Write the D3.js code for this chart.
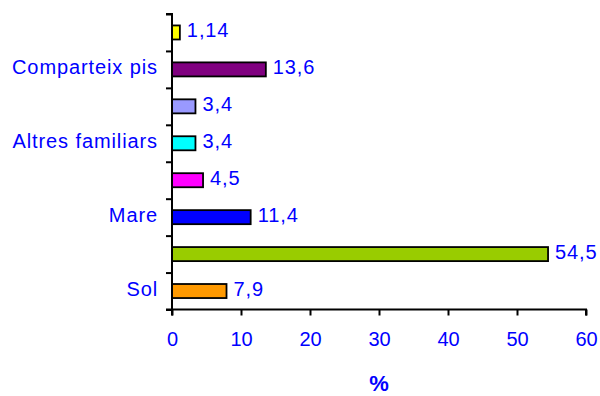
<!DOCTYPE html>
<html>
<head>
<meta charset="utf-8">
<script src="https://cdn.jsdelivr.net/npm/d3@7"></script>
<style>
  html, body { margin: 0; padding: 0; background: #fff; }
  svg { display: block; font-family: Arial, "Liberation Sans", sans-serif; }
</style>
</head>
<body>
<svg id="chart" width="600" height="396"></svg>
<script>
// Categories listed bottom to top; blank entries are rows whose label is not shown
const categories = ["Sol", "", "Mare", "", "Altres familiars", "", "Comparteix pis", ""];
const values = [7.9, 54.5, 11.4, 4.5, 3.4, 3.4, 13.6, 1.14];
const colors = ["#FF9900", "#99CC00", "#0000FF", "#FF00FF", "#00FFFF", "#9999FF", "#800080", "#FFFF00"];
const xTicks = [0, 10, 20, 30, 40, 50, 60];
const xTitle = "%";

const textColor = "#0000FF";
const fontSize = 20;
const spacing = "0.9px";

const svg = d3.select("#chart");
const plot = { left: 172, right: 586, top: 14, bottom: 309.5 };

const x = d3.scaleLinear().domain([0, 60]).range([plot.left, plot.right]);
const idx = d3.range(categories.length);
// index 0 at the bottom
const y = d3.scaleBand().domain(idx).range([plot.bottom, plot.top]).paddingInner(0.62).paddingOuter(0.31);
const yEdge = d3.scaleLinear().domain([0, categories.length]).range([plot.bottom, plot.top]);

const fmt = v => String(v).replace(".", ",");

// Bars
svg.append("g").selectAll("rect").data(idx).join("rect")
  .attr("x", x(0))
  .attr("y", i => y(i))
  .attr("width", i => x(values[i]) - x(0))
  .attr("height", y.bandwidth())
  .attr("fill", i => colors[i])
  .attr("stroke", "#000")
  .attr("stroke-width", 1.8);

// Value labels
svg.append("g").selectAll("text").data(idx).join("text")
  .attr("x", i => x(values[i]) + 7)
  .attr("y", i => y(i) + y.bandwidth() / 2 + 5)
  .attr("fill", textColor)
  .attr("font-size", fontSize)
  .attr("letter-spacing", spacing)
  .text(i => fmt(values[i]));

// Y axis: ticks at the row boundaries
const yAxis = svg.append("g")
  .attr("transform", `translate(${plot.left},0)`)
  .call(d3.axisLeft(yEdge).tickValues(d3.range(categories.length + 1)).tickSize(6).tickFormat(""));
yAxis.select(".domain").attr("stroke", "#000").attr("stroke-width", 2).attr("d", `M-6,${plot.top}H0V${plot.bottom}H-6`);
yAxis.selectAll(".tick line").attr("stroke", "#000").attr("stroke-width", 2);

// Category labels at row centres
svg.append("g").selectAll("text").data(idx.filter(i => categories[i])).join("text")
  .attr("x", plot.left - 14)
  .attr("y", i => y(i) + y.bandwidth() / 2 + 5)
  .attr("text-anchor", "end")
  .attr("fill", textColor)
  .attr("font-size", fontSize)
  .attr("letter-spacing", spacing)
  .text(i => categories[i]);

// X axis
const xAxis = svg.append("g")
  .attr("transform", `translate(0,${plot.bottom})`)
  .call(d3.axisBottom(x).tickValues(xTicks).tickSize(6).tickPadding(22).tickFormat(d => d));
xAxis.select(".domain").attr("stroke", "#000").attr("stroke-width", 2).attr("d", `M${plot.left},6V0H${plot.right}V6`);
xAxis.selectAll(".tick line").attr("stroke", "#000").attr("stroke-width", 2);
xAxis.selectAll(".tick text")
  .attr("fill", textColor)
  .attr("font-size", fontSize)
  .attr("font-family", "Arial, 'Liberation Sans', sans-serif")
  .attr("dy", null)
  .attr("y", 36);

// Axis title
svg.append("text")
  .attr("x", (plot.left + plot.right) / 2)
  .attr("y", 391)
  .attr("text-anchor", "middle")
  .attr("fill", textColor)
  .attr("font-size", 22)
  .attr("font-weight", "bold")
  .text(xTitle);
</script>
</body>
</html>
